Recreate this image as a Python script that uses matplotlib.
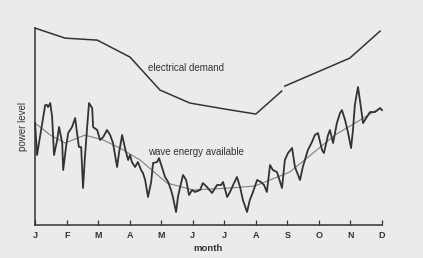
import numpy as np
import matplotlib.pyplot as plt

months = ["J", "F", "M", "A", "M", "J", "J", "A", "S", "O", "N", "D"]

# electrical demand (x in months from Jan, y in arbitrary power units); NaN marks the break
demand_x = [0, 0.95, 1.97, 3.01, 3.96, 4.91, 6.02, 7.00, 7.82, np.nan, 7.92, 9.98, 10.94]
demand_y = [197, 187, 185, 168, 135, 122, 116, 111, 134, np.nan, 139, 167, 194]

# wave energy available (daily-ish readings)
wave_x = [0.00, 0.06, 0.32, 0.38, 0.41, 0.48, 0.54, 0.60, 0.70, 0.76, 0.86, 0.89, 0.98,
          1.05, 1.17, 1.27, 1.33, 1.39, 1.46, 1.52, 1.58, 1.65, 1.71, 1.81, 1.84, 1.97,
          2.06, 2.16, 2.28, 2.38, 2.47, 2.60, 2.66, 2.76, 2.85, 2.95, 3.01, 3.07, 3.17,
          3.26, 3.36, 3.42, 3.49, 3.58, 3.68, 3.74, 3.87, 3.93, 4.03, 4.12, 4.22, 4.31,
          4.37, 4.47, 4.53, 4.60, 4.69, 4.79, 4.85, 4.88, 4.98, 5.07, 5.23, 5.32, 5.45,
          5.61, 5.77, 5.90, 5.96, 6.09, 6.18, 6.28, 6.40, 6.50, 6.59, 6.72, 6.81, 6.91,
          7.04, 7.16, 7.26, 7.35, 7.45, 7.54, 7.67, 7.83, 7.92, 8.02, 8.15, 8.24, 8.40,
          8.49, 8.65, 8.78, 8.87, 8.97, 9.10, 9.16, 9.29, 9.35, 9.45, 9.57, 9.67, 9.73,
          9.83, 9.92, 10.02, 10.08, 10.14, 10.21, 10.24, 10.30, 10.40, 10.52, 10.62,
          10.78, 10.94, 11.00]
wave_y = [102, 70, 120, 120, 118, 122, 108, 70, 85, 98, 82, 55, 78,
          92, 98, 107, 92, 78, 78, 37, 68, 98, 122, 117, 98, 95,
          85, 88, 95, 90, 82, 58, 72, 90, 77, 65, 70, 63, 58,
          63, 55, 52, 45, 28, 43, 62, 63, 67, 57, 48, 43, 35,
          28, 13, 28, 38, 50, 45, 35, 30, 35, 33, 35, 42, 38,
          32, 40, 40, 43, 28, 33, 40, 48, 38, 25, 13, 25, 33,
          45, 43, 40, 33, 60, 55, 53, 37, 65, 72, 77, 58, 45,
          58, 75, 83, 90, 92, 75, 72, 90, 95, 82, 102, 112, 115,
          105, 93, 77, 95, 120, 133, 138, 125, 102, 108, 113,
          113, 117, 115]

# smoothed trend of the wave energy
trend_x = [0, 0.48, 0.95, 1.58, 2.16, 2.69, 3.33, 4.18, 5.01, 6.18, 6.97, 8.08, 9.51, 10.94]
trend_y = [102, 90, 82, 90, 85, 77, 65, 42, 35, 37, 39, 53, 90, 117]

bg = "#ebebeb"
ink = "#333333"

fig = plt.figure(figsize=(4.23, 2.58), dpi=100, facecolor=bg)
ax = fig.add_axes([0.083, 0.128, 0.820, 0.763])
ax.set_facecolor(bg)

ax.plot(trend_x, trend_y, color="#808080", lw=0.8, clip_on=False)
ax.plot(wave_x, wave_y, color=ink, lw=1.3, clip_on=False)
ax.plot(demand_x, demand_y, color=ink, lw=1.1, clip_on=False)

ax.text(3.58, 157, "electrical demand", fontsize=7, color=ink, va="center",
        family="Liberation Sans")
ax.text(3.58, 73, "wave energy available", fontsize=7, color=ink, va="center",
        family="Liberation Sans")

ax.set_xlim(0, 11)
ax.set_ylim(0, 197)
ax.set_xticks(range(12))
ax.set_xticklabels(months, fontsize=6.5, fontweight="bold", color=ink,
                   family="Liberation Sans")
ax.tick_params(axis="x", direction="in", length=3.5, width=0.9, color=ink, pad=4)
ax.set_yticks([])

for side in ["top", "right"]:
    ax.spines[side].set_visible(False)
for side in ["left", "bottom"]:
    ax.spines[side].set_color(ink)
    ax.spines[side].set_linewidth(1.1)

ax.set_xlabel("month", fontsize=6.8, fontweight="bold", color=ink,
              family="Liberation Sans", labelpad=3)
ax.set_ylabel("power level", fontsize=7, color=ink, family="Liberation Sans",
              labelpad=5)

fig.savefig("out.png", dpi=100, facecolor=bg)
